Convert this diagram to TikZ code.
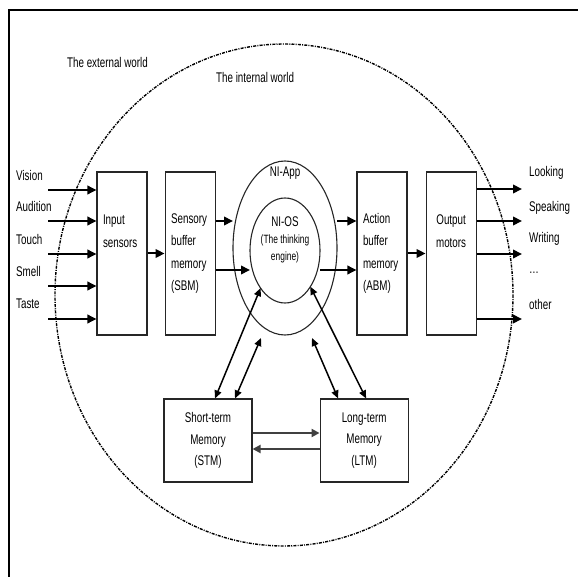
\documentclass[tikz,border=0pt]{standalone}
\usepackage{fontspec}
\setmainfont{Liberation Sans}[FakeStretch=0.7]
\usetikzlibrary{arrows.meta,positioning,shapes.geometric}

\begin{document}
\begin{tikzpicture}[
  x=1pt, y=-1pt,
  box/.style={draw=black!85, line width=1.1pt, minimum width=50pt, minimum height=163pt, text width=38pt, inner xsep=6pt, align=left, font=\fontsize{14}{22.5}\selectfont},
  mem/.style={draw=black!85, line width=1.1pt, minimum width=88pt, minimum height=83pt, align=center, font=\fontsize{14}{21.5}\selectfont},
  ring/.style={draw=black!85, line width=1.1pt, ellipse, outer sep=0pt},
  lbl/.style={anchor=west, inner sep=1pt, font=\fontsize{14}{16}\selectfont},
  arr/.style={line width=2pt, -{Triangle[length=9pt,width=8.5pt]}},
  biarr/.style={line width=1.5pt, {Triangle[length=8pt,width=7pt]}-{Triangle[length=8pt,width=7pt]}},
  xfer/.style={line width=2.6pt, black!75, -{Triangle[length=8pt,width=8pt]}},
  world/.style={line width=1.4pt, dash pattern=on 3pt off 1.2pt on 1pt off 1.2pt}
]
\useasboundingbox (0,0) rectangle (578,577);
\draw[line width=1.8pt] (9,577) -- (9,10) -- (578,10);
\draw[world] (284,295) ellipse [x radius=229, y radius=251];
\node[lbl] (ext) at (66,62) {The external world};
\node[lbl] (int) at (215,77) {The internal world};

\node[ring, minimum width=104pt, minimum height=174pt] (app) at (285,248) {};
\node[ring, minimum width=70pt, minimum height=105pt] (os) at (285,250.5) {};
\node[font=\fontsize{14}{16}\selectfont] (apptxt) at (285,173) {NI-App};
\node[align=center, font=\fontsize{12}{17}\selectfont] (ostxt) at (285,240) {{\fontsize{14}{17}\selectfont NI-OS}\\(The thinking\\engine)};

\node[box] (in) at (122,253.5) {Input\\sensors\\\mbox{}\\\mbox{}};
\node[box, right=17pt of in] (sbm) {Sensory\\buffer\\memory\\(SBM)};
\node[box] (abm) at (382,253.5) {Action\\buffer\\memory\\(ABM)};
\node[box, align=center, right=18pt of abm] (out) {Output\\motors\\\mbox{}\\\mbox{}};
\node[mem] (stm) at (208,440.5) {Short-term\\Memory\\(STM)};
\node[mem, right=67pt of stm] (ltm) {Long-term\\Memory\\(LTM)};

\foreach \y/\s [count=\i] in {190/Vision, 221/Audition, 254/Touch, 286/Smell, 319/Taste} {
  \node[lbl] (src\i) at (15,\y-15) {\s};
  \coordinate (s\i) at (48,\y);
  \draw[arr] (s\i) -- (s\i -| in.west);
}
\foreach \y/\s [count=\i] in {173/Looking, 208/Speaking, 239/Writing, 273/{\dots}, 304/other}
  \node[lbl] (act\i) at (528,\y) {\s};
\foreach \y [count=\i] in {189, 221, 254, 319} {
  \coordinate (t\i) at (522,\y);
  \draw[arr] (out.east |- t\i) -- (t\i);
}

\coordinate (r1) at (0,221);
\coordinate (r2) at (0,270);
\draw[arr] (in) -- (sbm);
\draw[arr] (sbm.east |- r1) -- (app.west |- r1);
\draw[arr] (sbm.east |- r2) -- (os.west |- r2);
\draw[arr] (app.east |- r1) -- (abm.west |- r1);
\draw[arr] (os.east |- r2) -- (abm.west |- r2);
\draw[arr] (abm) -- (out);

\coordinate (appL) at (261,338);
\coordinate (appR) at (312,338);
\draw[biarr] ([xshift=7pt]stm.north) -- (os.237);
\draw[biarr] ([xshift=27pt]stm.north) -- (appL);
\draw[biarr] ([xshift=-26pt]ltm.north) -- (appR);
\draw[biarr] ([xshift=2pt]ltm.north) -- (os.305);
\draw[xfer] ([yshift=7.5pt]stm.east) -- ([yshift=7.5pt]ltm.west);
\draw[xfer] ([yshift=-8.5pt]ltm.west) -- ([yshift=-8.5pt]stm.east);
\end{tikzpicture}
\end{document}
